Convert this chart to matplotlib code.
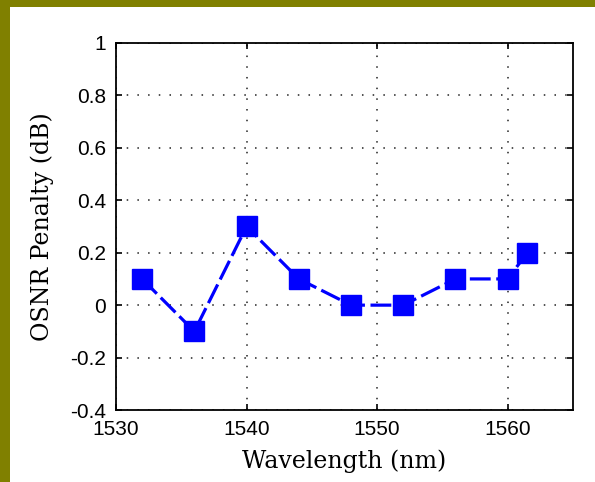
import matplotlib
matplotlib.use("Agg")
import matplotlib.pyplot as plt
from matplotlib.patches import Rectangle

# ---- data ----
wavelength = [1532, 1536, 1540, 1544, 1548, 1552, 1556, 1560, 1561.5]
penalty = [0.1, -0.1, 0.3, 0.1, 0.0, 0.0, 0.1, 0.1, 0.2]
xticks = [1530, 1540, 1550, 1560]
xticklabels = ["1530", "1540", "1550", "1560"]
yticks = [-0.4, -0.2, 0, 0.2, 0.4, 0.6, 0.8, 1]
yticklabels = ["-0.4", "-0.2", "0", "0.2", "0.4", "0.6", "0.8", "1"]

plt.rcParams['lines.scale_dashes'] = False

W, H = 595, 482
fig = plt.figure(figsize=(W / 100, H / 100), dpi=100, facecolor="white")

# olive frame strips
olive = "#808000"
fig.patches.append(Rectangle((0, 0), 10 / W, 1, transform=fig.transFigure,
                             facecolor=olive, edgecolor="none", zorder=0))
fig.patches.append(Rectangle((0, 1 - 7 / H), 1, 7 / H, transform=fig.transFigure,
                             facecolor=olive, edgecolor="none", zorder=0))

left, right, top, bottom = 116, 573, 43, 410
ax = fig.add_axes([left / W, 1 - bottom / H, (right - left) / W, (bottom - top) / H])

ax.plot(wavelength, penalty, color="#0000FF", linewidth=2.3,
        linestyle=(0, (15, 4)), marker="s", markersize=15,
        markerfacecolor="#0000FF", markeredgecolor="#0000FF", zorder=3)

ax.set_xlim(1530, 1565)
ax.set_ylim(-0.4, 1)
ax.set_xticks(xticks)
ax.set_xticklabels(xticklabels, fontfamily="Liberation Sans", fontsize=15)
ax.set_yticks(yticks)
ax.set_yticklabels(yticklabels, fontfamily="Liberation Sans", fontsize=15)

ax.grid(True, color="#222222", linewidth=1.1, linestyle=(0, (1.1, 6.6)))
ax.set_axisbelow(True)

ax.tick_params(direction="in", length=4.5, width=1.2, top=True, right=True,
               colors="black")
ax.tick_params(axis="y", pad=7)
ax.tick_params(axis="x", pad=7)
for s in ax.spines.values():
    s.set_linewidth(1.3)
    s.set_color("black")

ax.set_xlabel("Wavelength (nm)", fontfamily="DejaVu Serif", fontsize=17, labelpad=8)
ax.set_ylabel("OSNR Penalty (dB)", fontfamily="DejaVu Serif", fontsize=17, labelpad=12)

fig.savefig("out.png", dpi=100, facecolor="white")
